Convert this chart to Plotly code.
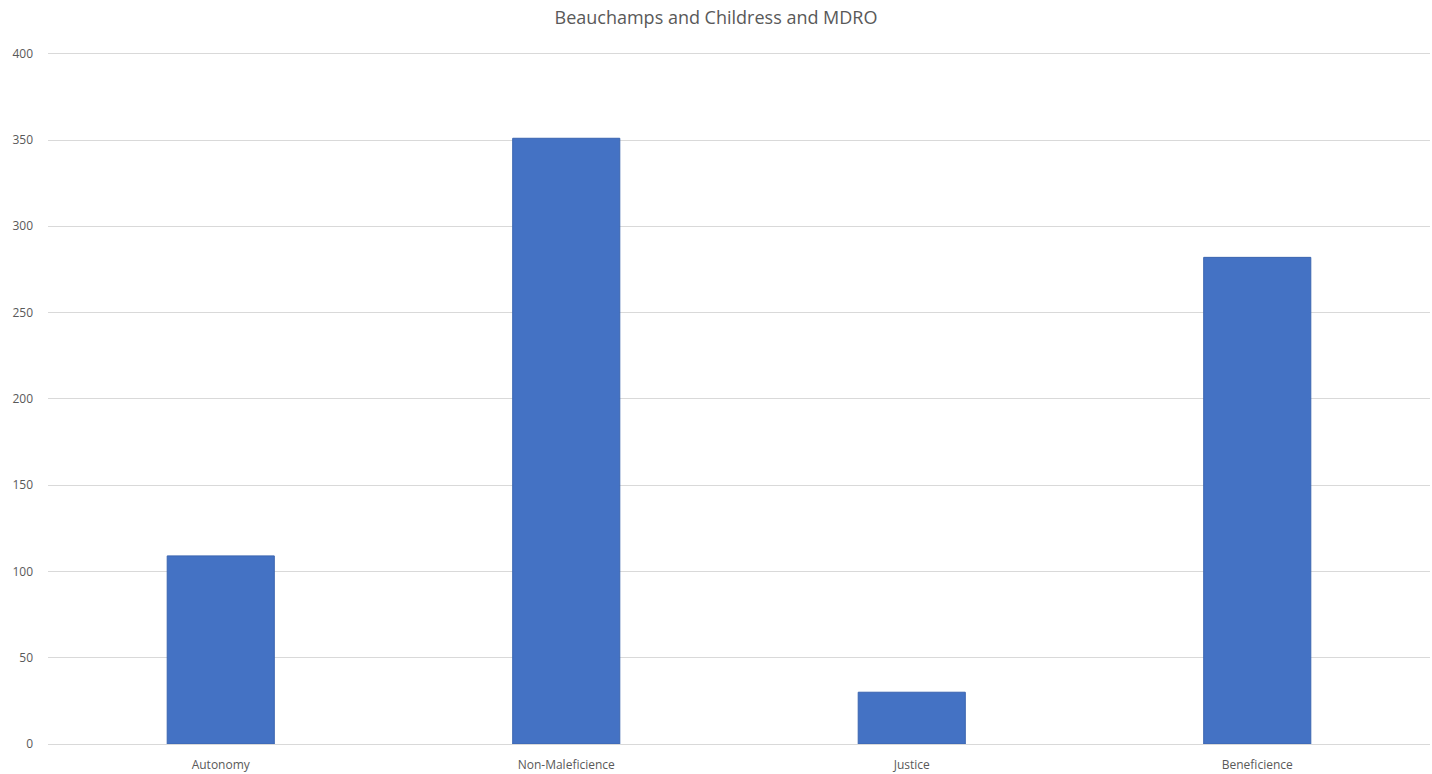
import plotly.graph_objects as go

categories = ["Autonomy", "Non-Maleficience", "Justice", "Beneficience"]
values = [109, 351, 30, 282]
y_ticks = [0, 50, 100, 150, 200, 250, 300, 350, 400]

fig = go.Figure(go.Bar(
    x=categories, y=values,
    marker=dict(color="#4472C4", line=dict(color="#3B65B0", width=1)),
    width=0.31,
))

fig.update_layout(
    width=1432, height=774,
    margin=dict(l=48, r=2, t=52, b=30),
    paper_bgcolor="white", plot_bgcolor="white",
    title=dict(text="Beauchamps and Childress and MDRO", x=0.5, xanchor="center",
               y=0.977, yanchor="middle",
               font=dict(family="Open Sans, Liberation Sans, sans-serif", size=18, color="#595959")),
    font=dict(family="Open Sans, Liberation Sans, sans-serif", size=12, color="#595959"),
    showlegend=False,
    bargap=0.69,
)
fig.update_xaxes(showgrid=False, showline=True, linecolor="#D9D9D9", linewidth=1,
                 ticks="", ticklabelstandoff=10, tickfont=dict(size=12, color="#595959"))
fig.update_yaxes(range=[0, 401], tickvals=y_ticks, showgrid=True, gridcolor="#D9D9D9",
                 gridwidth=1, zeroline=False, showline=False, ticks="",
                 ticklabelstandoff=14, tickfont=dict(size=12, color="#595959"))

fig.write_html("out.html")
